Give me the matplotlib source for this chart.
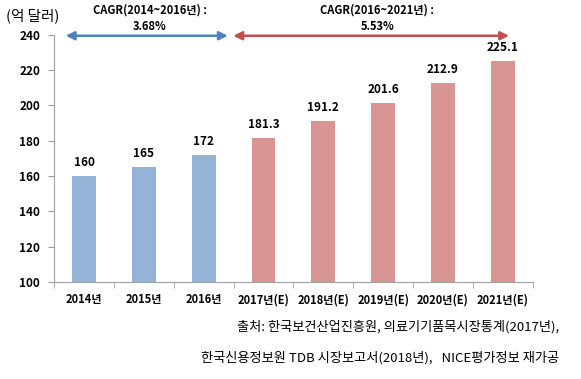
import matplotlib
matplotlib.use("Agg")
import matplotlib.pyplot as plt
import numpy as np

plt.rcParams['font.family'] = ['Noto Sans CJK KR', 'DejaVu Sans']

categories = ["2014년", "2015년", "2016년", "2017년(E)", "2018년(E)", "2019년(E)", "2020년(E)", "2021년(E)"]
values = [160, 165, 172, 181.3, 191.2, 201.6, 212.9, 225.1]
labels = ["160", "165", "172", "181.3", "191.2", "201.6", "212.9", "225.1"]
colors = ["#95B3D7"] * 3 + ["#D99594"] * 5
yticks = [100, 120, 140, 160, 180, 200, 220, 240]
cagr1 = "CAGR(2014~2016년) :\n3.68%"
cagr2 = "CAGR(2016~2021년) :\n5.53%"
unit = "(억 달러)"
source1 = "출처: 한국보건산업진흥원, 의료기기품목시장통계(2017년),"
source2 = "한국신용정보원 TDB 시장보고서(2018년),   NICE평가정보 재가공"

fig = plt.figure(figsize=(5.81, 3.79), dpi=100)
ax = fig.add_axes([0.093, 0.256, 0.824, 0.652])

x = np.arange(len(categories))
ax.bar(x, values, width=0.4, color=colors, bottom=0)
ax.set_ylim(100, 240)
ax.set_xlim(-0.5, len(categories) - 0.5)
ax.set_yticks(yticks)
ax.set_yticklabels([str(t) for t in yticks], fontsize=8.5, fontweight='bold')
ax.set_xticks(x)
ax.set_xticklabels(categories, fontsize=8, fontweight='bold')
ax.tick_params(axis='x', length=0, pad=8)
ax.set_xticks(np.arange(-0.5, len(categories), 1), minor=True)
ax.tick_params(axis='x', which='minor', length=4, color='#A0A0A0', direction='out')
ax.tick_params(axis='y', length=4, color='#A0A0A0', direction='out', pad=6)

for s in ['top', 'right']:
    ax.spines[s].set_visible(False)
for s in ['left', 'bottom']:
    ax.spines[s].set_color('#A0A0A0')
    ax.spines[s].set_linewidth(0.8)

for xi, v, lab in zip(x, values, labels):
    ax.text(xi, v + 4, lab, ha='center', va='bottom', fontsize=8.5, fontweight='bold')

# CAGR arrows
ax.annotate('', xy=(-0.35, 239.5), xytext=(2.45, 239.5),
            arrowprops=dict(arrowstyle='<|-|>,head_length=0.5,head_width=0.25', color='#4F81BD', lw=1.8),
            annotation_clip=False)
ax.annotate('', xy=(2.45, 239.5), xytext=(7.15, 239.5),
            arrowprops=dict(arrowstyle='<|-|>,head_length=0.5,head_width=0.25', color='#C0504D', lw=1.8),
            annotation_clip=False)
ax.text(1.1, 241.2, cagr1, ha='center', va='bottom', fontsize=8, fontweight='bold', linespacing=1.3)
ax.text(4.9, 241.2, cagr2, ha='center', va='bottom', fontsize=8, fontweight='bold', linespacing=1.3)

fig.text(0.01, 0.978, unit, ha='left', va='top', fontsize=10.5, fontweight='medium')
fig.text(0.962, 0.137, source1, ha='right', va='center', fontsize=9.5)
fig.text(0.962, 0.057, source2, ha='right', va='center', fontsize=9.5)

fig.savefig("out.png", dpi=100)
